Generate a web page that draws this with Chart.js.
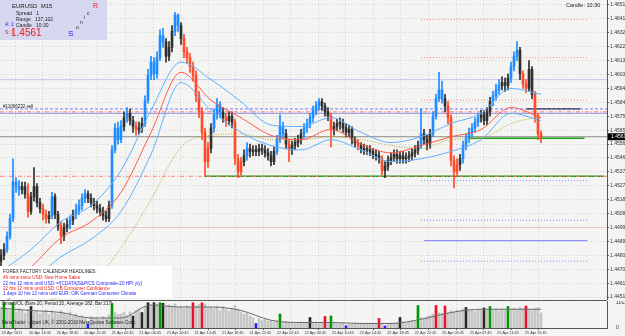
<!DOCTYPE html>
<html>
<head>
<meta charset="utf-8">
<script src="https://cdn.jsdelivr.net/npm/chart.js@4.4.1/dist/chart.umd.min.js"></script>
<style>
  html, body { margin: 0; padding: 0; background: #f4f4f2; }
  #wrap { position: relative; width: 625px; height: 336px; overflow: hidden; font-family: "Liberation Sans", Arial, sans-serif; }
  canvas { position: absolute; left: 0; }
  #price { top: 0; }
  #vol { top: 301px; }
  .sep { position: absolute; left: 0; top: 300px; width: 607px; height: 1px; background: #5a5a5a; }
  .t { position: absolute; white-space: nowrap; font-size: 5px; line-height: 6px; color: #222; }
  #info { position: absolute; left: 0; top: 0; width: 107px; height: 40px; background: rgba(212, 212, 240, 0.92); }
  #cal { position: absolute; left: 0; top: 266px; width: 172px; height: 32px; background: #fff; }
  #cal .t { font-size: 4.6px; }
  .red { color: #e8201c; }
  .blue { color: #2424f0; }
</style>
</head>
<body>
<div id="wrap">
  <canvas id="price" width="625" height="300"></canvas>
  <div class="sep"></div>
  <canvas id="vol" width="625" height="35"></canvas>

  <div id="info">
    <div class="t" style="left:12px;top:3px;font-size:6px">EURUSD&nbsp;&nbsp;M15</div>
    <div class="t" style="left:16px;top:10px">Spread&nbsp;&nbsp;&nbsp;1</div>
    <div class="t" style="left:16px;top:16px">Range&nbsp;&nbsp;&nbsp;137,102</div>
    <div class="t" style="left:16px;top:22px">Candle&nbsp;&nbsp;&nbsp;10:30</div>
    <div class="t blue" style="left:5px;top:21px">A: 1</div>
    <div class="t red" style="left:5px;top:29px">S: 1</div>
    <div class="t red" style="left:11px;top:27px;font-size:10px;line-height:11px">1.4561</div>
    <div class="t red" style="left:93px;top:2px;font-size:7px;line-height:8px">R</div>
    <div class="t" style="left:87px;top:10px">c</div>
    <div class="t" style="left:84px;top:14px">i</div>
    <div class="t" style="left:80px;top:19px">n</div>
    <div class="t" style="left:76px;top:24px">o</div>
    <div class="t blue" style="left:68px;top:29px;font-size:8px;line-height:9px">S</div>
  </div>

  <div class="t" style="left:566px;top:2px;font-size:5.5px">Candle: 10:30</div>
  <div class="t" style="left:3px;top:104px;font-size:4.5px">#11066232 sell</div>

  <div id="cal">
    <div class="t" style="left:3px;top:3px">FOREX FACTORY CALENDAR HEADLINES:</div>
    <div class="t red" style="left:3px;top:9px">46 mins since USD: New Home Sales</div>
    <div class="t blue" style="left:3px;top:15px">22 hrs 12 mins until USD: =![CDATA[S&amp;P/CS Composite-20 HPI y/y]</div>
    <div class="t red" style="left:3px;top:20px">22 hrs 12 mins until USD: CB Consumer Confidence</div>
    <div class="t blue" style="left:3px;top:25px">1 days 10 hrs 12 mins until EUR: GfK German Consumer Climate</div>
  </div>

  <div class="t" style="left:2px;top:301px;font-size:4.6px">SmartVOL (Bars 20, Period 20, Average 182, Bar 217)</div>
  <div class="t" style="left:2px;top:320px;font-size:4.6px">MetaTrader - Alpari UK, &copy; 2001-2010 MetaQuotes Software Corp.</div>
</div>

<script>
// EURUSD M15, one entry per bar, oldest first
const firstOpen = 1.4476
const closes = [
  1.4480, 1.4484, 1.4493, 1.4505, 1.4530, 1.4527, 1.4525, 1.4527, 1.4522, 1.4510,
  1.4520, 1.4527, 1.4516, 1.4512, 1.4508, 1.4505, 1.4507, 1.4520, 1.4508, 1.4500,
  1.4493, 1.4499, 1.4501, 1.4504, 1.4508, 1.4511, 1.4514, 1.4519, 1.4522, 1.4519,
  1.4516, 1.4514, 1.4512, 1.4510, 1.4507, 1.4505, 1.4514, 1.4552, 1.4567, 1.4559,
  1.4568, 1.4574, 1.4577, 1.4572, 1.4568, 1.4566, 1.4567, 1.4570, 1.4586, 1.4603,
  1.4612, 1.4604, 1.4615, 1.4630, 1.4626, 1.4616, 1.4622, 1.4633, 1.4644, 1.4637,
  1.4628, 1.4619, 1.4615, 1.4609, 1.4603, 1.4589, 1.4578, 1.4564, 1.4544, 1.4553,
  1.4567, 1.4576, 1.4583, 1.4578, 1.4574, 1.4572, 1.4575, 1.4571, 1.4546, 1.4537,
  1.4544, 1.4548, 1.4553, 1.4551, 1.4552, 1.4551, 1.4553, 1.4552, 1.4550, 1.4548,
  1.4544, 1.4551, 1.4559, 1.4568, 1.4563, 1.4556, 1.4552, 1.4555, 1.4557, 1.4559,
  1.4563, 1.4567, 1.4570, 1.4574, 1.4579, 1.4582, 1.4585, 1.4582, 1.4578, 1.4575,
  1.4566, 1.4568, 1.4570, 1.4570, 1.4567, 1.4564, 1.4566, 1.4559, 1.4557, 1.4555,
  1.4553, 1.4552, 1.4552, 1.4551, 1.4549, 1.4548, 1.4546, 1.4538, 1.4541, 1.4545,
  1.4547, 1.4549, 1.4546, 1.4548, 1.4546, 1.4547, 1.4548, 1.4550, 1.4552, 1.4555,
  1.4563, 1.4559, 1.4556, 1.4563, 1.4575, 1.4587, 1.4593, 1.4587, 1.4582, 1.4574,
  1.4545, 1.4537, 1.4542, 1.4546, 1.4555, 1.4560, 1.4564, 1.4567, 1.4571, 1.4574,
  1.4576, 1.4572, 1.4578, 1.4585, 1.4589, 1.4593, 1.4596, 1.4598, 1.4596, 1.4601,
  1.4609, 1.4616, 1.4620, 1.4604, 1.4597, 1.4594, 1.4607, 1.4590, 1.4575, 1.4563, 1.4561
]
const highs = [
  1.4484, 1.4488, 1.4496, 1.4508, 1.4546, 1.4533, 1.4531, 1.4530, 1.4530, 1.4529,
  1.4523, 1.4540, 1.4529, 1.4519, 1.4515, 1.4511, 1.4510, 1.4523, 1.4522, 1.4510,
  1.4503, 1.4502, 1.4505, 1.4507, 1.4511, 1.4515, 1.4518, 1.4522, 1.4525, 1.4524,
  1.4522, 1.4519, 1.4517, 1.4515, 1.4513, 1.4510, 1.4517, 1.4555, 1.4570, 1.4571,
  1.4572, 1.4578, 1.4581, 1.4580, 1.4575, 1.4571, 1.4571, 1.4574, 1.4589, 1.4607,
  1.4616, 1.4615, 1.4619, 1.4634, 1.4635, 1.4628, 1.4626, 1.4637, 1.4646, 1.4645,
  1.4639, 1.4631, 1.4622, 1.4618, 1.4612, 1.4606, 1.4592, 1.4581, 1.4567, 1.4557,
  1.4570, 1.4580, 1.4587, 1.4585, 1.4581, 1.4577, 1.4578, 1.4578, 1.4573, 1.4549,
  1.4547, 1.4552, 1.4557, 1.4556, 1.4555, 1.4555, 1.4556, 1.4556, 1.4555, 1.4553,
  1.4551, 1.4554, 1.4562, 1.4576, 1.4571, 1.4566, 1.4559, 1.4558, 1.4560, 1.4562,
  1.4566, 1.4570, 1.4573, 1.4577, 1.4582, 1.4585, 1.4587, 1.4587, 1.4584, 1.4581,
  1.4577, 1.4571, 1.4573, 1.4574, 1.4573, 1.4570, 1.4569, 1.4568, 1.4561, 1.4559,
  1.4557, 1.4556, 1.4555, 1.4555, 1.4553, 1.4552, 1.4551, 1.4548, 1.4544, 1.4548,
  1.4550, 1.4552, 1.4552, 1.4551, 1.4551, 1.4550, 1.4551, 1.4553, 1.4555, 1.4558,
  1.4580, 1.4566, 1.4562, 1.4566, 1.4578, 1.4590, 1.4605, 1.4599, 1.4590, 1.4585,
  1.4576, 1.4548, 1.4546, 1.4549, 1.4558, 1.4563, 1.4567, 1.4570, 1.4574, 1.4577,
  1.4579, 1.4579, 1.4581, 1.4588, 1.4592, 1.4597, 1.4600, 1.4602, 1.4601, 1.4604,
  1.4612, 1.4619, 1.4626, 1.4622, 1.4606, 1.4600, 1.4613, 1.4609, 1.4592, 1.4577, 1.4565
]
const lows = [
  1.4472, 1.4477, 1.4482, 1.4491, 1.4503, 1.4523, 1.4521, 1.4522, 1.4519, 1.4506,
  1.4508, 1.4517, 1.4513, 1.4509, 1.4504, 1.4502, 1.4502, 1.4505, 1.4505, 1.4497,
  1.4488, 1.4490, 1.4496, 1.4498, 1.4501, 1.4505, 1.4508, 1.4511, 1.4516, 1.4516,
  1.4513, 1.4511, 1.4509, 1.4507, 1.4504, 1.4503, 1.4503, 1.4512, 1.4550, 1.4556,
  1.4557, 1.4565, 1.4571, 1.4569, 1.4564, 1.4562, 1.4563, 1.4564, 1.4568, 1.4584,
  1.4600, 1.4600, 1.4601, 1.4613, 1.4622, 1.4612, 1.4613, 1.4619, 1.4630, 1.4633,
  1.4624, 1.4615, 1.4611, 1.4605, 1.4599, 1.4585, 1.4574, 1.4559, 1.4534, 1.4540,
  1.4550, 1.4564, 1.4573, 1.4574, 1.4571, 1.4568, 1.4569, 1.4567, 1.4542, 1.4533,
  1.4535, 1.4541, 1.4545, 1.4547, 1.4548, 1.4548, 1.4548, 1.4549, 1.4547, 1.4545,
  1.4541, 1.4542, 1.4549, 1.4557, 1.4560, 1.4553, 1.4544, 1.4549, 1.4552, 1.4554,
  1.4556, 1.4560, 1.4564, 1.4567, 1.4571, 1.4576, 1.4579, 1.4579, 1.4575, 1.4572,
  1.4554, 1.4562, 1.4565, 1.4566, 1.4564, 1.4561, 1.4561, 1.4556, 1.4554, 1.4552,
  1.4550, 1.4549, 1.4549, 1.4548, 1.4546, 1.4545, 1.4543, 1.4535, 1.4533, 1.4538,
  1.4542, 1.4544, 1.4543, 1.4543, 1.4543, 1.4543, 1.4544, 1.4545, 1.4547, 1.4549,
  1.4553, 1.4556, 1.4552, 1.4553, 1.4561, 1.4573, 1.4585, 1.4584, 1.4578, 1.4570,
  1.4541, 1.4526, 1.4534, 1.4538, 1.4543, 1.4552, 1.4557, 1.4561, 1.4564, 1.4568,
  1.4571, 1.4569, 1.4569, 1.4575, 1.4582, 1.4586, 1.4590, 1.4593, 1.4592, 1.4593,
  1.4598, 1.4606, 1.4613, 1.4600, 1.4594, 1.4591, 1.4592, 1.4587, 1.4571, 1.4559, 1.4557
]
const volumes = [
  820, 1010, 760, 690, 1000, 650, 780, 720, 600, 740,
  860, 640, 700, 580, 660, 720, 540, 690, 610, 560,
  700, 580, 520, 640, 480, 560, 420, 500, 380, 150,
  460, 380, 420, 340, 460, 380, 520, 980, 620, 540,
  560, 620, 500, 640, 480, 700, 760, 620, 820, 1010,
  900, 1010, 940, 1010, 990, 860, 920, 880, 970, 820,
  860, 780, 900, 820, 1010, 880, 940, 1010, 960, 800,
  820, 760, 880, 700, 860, 740, 680, 800, 900, 760,
  620, 560, 600, 480, 420, 180, 380, 300, 340, 260,
  300, 240, 280, 560, 220, 260, 200, 240, 180, 220,
  240, 180, 220, 420, 200, 240, 180, 220, 460, 200,
  480, 200, 160, 180, 220, 90, 180, 160, 200, 150,
  180, 160, 200, 140, 180, 160, 380, 200, 80, 160,
  200, 160, 220, 420, 240, 200, 260, 300, 280, 900,
  420, 380, 460, 500, 560, 900, 620, 580, 880, 600,
  700, 640, 720, 680, 760, 820, 700, 740, 660, 720,
  700, 800, 740, 860, 720, 780, 680, 760, 700, 860,
  720, 780, 700, 820, 760, 880, 740, 700, 780, 820, 600
]
// SmartVOL bar signals (bar indexes)
const climaxUpBars = [1, 4, 37, 53, 93, 110, 139, 163, 169]
const climaxDownBars = [64, 67, 108, 126, 145, 148, 175]
const churnBars = [10, 44, 47, 49, 51, 54, 103, 133, 155, 161]
const lowVolumeBars = [29, 85, 115, 128]

// indicators read every maStep bars
const maStep = 10
const emaRed = [1.4456, 1.4472, 1.4492, 1.4503, 1.4523, 1.4564, 1.4605, 1.4586, 1.4574, 1.4562,
  1.4559, 1.4566, 1.4556, 1.4550, 1.4555, 1.4561, 1.4566, 1.4581, 1.4574]
const bandUpper = [1.4469, 1.4484, 1.4503, 1.4514, 1.4538, 1.4579, 1.4612, 1.4600, 1.4585, 1.4569,
  1.4568, 1.4574, 1.4564, 1.4557, 1.4561, 1.4570, 1.4577, 1.4594, 1.4590]
const bandLower = [1.4446, 1.4462, 1.4479, 1.4491, 1.4510, 1.4549, 1.4598, 1.4579, 1.4564, 1.4555,
  1.4552, 1.4559, 1.4552, 1.4544, 1.4546, 1.4551, 1.4559, 1.4577, 1.4572]
const slowMa = [null, 1.4444, 1.4452, 1.4460, 1.4485, 1.4518, 1.4554, 1.4562, 1.4563, 1.4559,
  1.4559, 1.4561, 1.4559, 1.4555, 1.4553, 1.4559, 1.4560, 1.4570, 1.4575]
const volumeAvg = [790, 700, 620, 400, 400, 920, 840, 840, 700, 310,
  220, 220, 180, 180, 350, 620, 750, 750, 750]

// horizontal levels
const bidPrice = 1.4561
const lavenderLevel = 1.4600
const violetLevel = 1.4577
const orderPrice = 1.4578
const orderStop = 1.4580
const supportLevel = 1.4534
const pinkLevel = 1.4499
const greenShort = 1.4560
const blackShort = 1.4580
const pivotReds = [1.4641, 1.4615, 1.4586]
const pivotBlues = [1.4531, 1.4504, 1.4476]
const blueSolid = 1.4490

const priceTicks = [1.44515, 1.44610, 1.44705, 1.44800, 1.44895, 1.44990, 1.45085, 1.45180,
  1.45275, 1.45370, 1.45465, 1.45560, 1.45655, 1.45750, 1.45845, 1.45940, 1.46035, 1.46130,
  1.46225, 1.46320, 1.46415, 1.46510]
const volumeTicks = [0, 1013.46]
const timeLabels = ['20 Apr 2011', '20 Apr 14:45', '20 Apr 18:45', '20 Apr 22:45', '21 Apr 02:45',
  '21 Apr 06:45', '21 Apr 10:45', '21 Apr 14:45', '21 Apr 18:45', '21 Apr 22:45', '22 Apr 02:45',
  '22 Apr 06:45', '22 Apr 10:45', '22 Apr 14:45', '22 Apr 18:45', '22 Apr 22:45', '25 Apr 03:45',
  '25 Apr 07:45', '25 Apr 11:45', '25 Apr 15:45']

const font = "'Liberation Sans', Arial, sans-serif"
const gridColor = 'rgba(0,0,0,0.13)'
const xMin = -1 / 3
const xMax = 202
const barsPerLabel = 9.18

const opens = closes.map((c, i) => i ? closes[i - 1] : firstOpen)

// strong 3-bar moves are coloured, the rest stays dark
function candleColor(i) {
  const d = closes[i] - closes[Math.max(0, i - 3)]
  if (d > 0.0010) return '#1e8cff'
  if (d < -0.0010) return '#ff4a2a'
  return '#303030'
}

function volColor(i) {
  if (climaxUpBars.includes(i)) return '#009a00'
  if (climaxDownBars.includes(i)) return '#e8102a'
  if (churnBars.includes(i)) return '#262626'
  if (lowVolumeBars.includes(i)) return '#1c1cff'
  return '#c6c6c6'
}

const sparse = arr => arr.map((v, k) => ({ x: k * maStep, y: v })).filter(p => p.y !== null)

function maLine(arr, color, dash) {
  return {
    type: 'line', data: sparse(arr), borderColor: color, borderWidth: 1, borderDash: dash || [],
    pointRadius: 0, cubicInterpolationMode: 'monotone', order: 1
  }
}

function level(price, from, to, color, dash, width) {
  return {
    type: 'line', data: [{ x: from, y: price }, { x: to, y: price }],
    borderColor: color, borderWidth: width || 1, borderDash: dash || [], pointRadius: 0, order: 5
  }
}

const pivotFrom = 140, pivotTo = 195.5
const levels = [
  level(lavenderLevel, xMin, xMax, '#c6c6ee'),
  level(pinkLevel, xMin, xMax, '#f0c4c4'),
  level(orderStop, xMin, xMax, '#7a7aff', [3, 2]),
  level(orderPrice, xMin, xMax, '#ff7a7a', [4, 2, 1, 2]),
  level(violetLevel, xMin, xMax, '#8e8ee6'),
  level(bidPrice, xMin, xMax, '#8a8a8a'),
  level(supportLevel, xMin, xMax, '#ff7a7a', [4, 2, 1, 2]),
  level(supportLevel, 68, 201, '#10a010', null, 1.5),
  level(greenShort, 156, 194.5, '#10a010', null, 1.5),
  level(blackShort, 175, 193, '#111111', null, 1.2),
  level(blueSolid, 141, pivotTo, '#7a7aff'),
  ...pivotReds.map(p => level(p, pivotFrom, pivotTo, '#ff8a8a', [1, 2])),
  ...pivotBlues.map(p => level(p, pivotFrom, pivotTo, '#8a8aff', [1, 2]))
]

const bidLabel = {
  id: 'bidLabel',
  afterDraw(chart) {
    const y = chart.scales.y.getPixelForValue(bidPrice)
    const x = chart.chartArea.right + 1
    const ctx = chart.ctx
    ctx.save()
    ctx.fillStyle = '#000'
    ctx.fillRect(x, y - 3.5, 625 - x, 7)
    ctx.fillStyle = '#fff'
    ctx.font = '5px ' + font
    ctx.textBaseline = 'middle'
    ctx.fillText(bidPrice.toFixed(5), x + 3, y)
    ctx.restore()
  }
}

const timeTicks = s => { s.ticks = timeLabels.map((t, k) => ({ value: 0.2 + k * barsPerLabel })) }

new Chart(document.getElementById('price'), {
  type: 'bar',
  data: {
    datasets: [
      maLine(emaRed, '#ff5a45'),
      maLine(bandUpper, '#5fb0ff'),
      maLine(bandLower, '#5fb0ff'),
      maLine(slowMa, '#b4a42a', [1, 1.5]),
      {
        data: closes.map((c, i) => ({ x: i, y: [opens[i], c] })),
        backgroundColor: ctx => candleColor(ctx.dataIndex),
        barThickness: 2, minBarLength: 1, grouped: false, order: 3
      },
      {
        data: closes.map((c, i) => ({ x: i, y: [lows[i], highs[i]] })),
        backgroundColor: ctx => candleColor(ctx.dataIndex),
        barThickness: 1, grouped: false, order: 4
      },
      ...levels
    ]
  },
  options: {
    animation: false, responsive: false,
    layout: { padding: 0 },
    plugins: { legend: { display: false }, tooltip: { enabled: false } },
    scales: {
      x: {
        type: 'linear', min: xMin, max: xMax, offset: false,
        afterBuildTicks: timeTicks,
        ticks: { display: false },
        grid: { color: gridColor, drawTicks: false },
        border: { display: false, dash: [1, 2] },
        afterFit: s => { s.height = 0; s.paddingLeft = 0; s.paddingRight = 0 }
      },
      y: {
        position: 'right', min: 1.44495, max: 1.46544,
        afterBuildTicks: s => { s.ticks = priceTicks.map(v => ({ value: v })) },
        ticks: { font: { size: 5, family: font }, color: '#333', padding: 1, autoSkip: false, callback: v => v.toFixed(5) },
        grid: { color: gridColor, tickLength: 2, tickColor: '#666' },
        border: { display: true, color: '#555', dash: [1, 2] },
        afterFit: s => { s.width = 18; s.paddingTop = 0; s.paddingBottom = 0 }
      }
    }
  },
  plugins: [bidLabel]
})

new Chart(document.getElementById('vol'), {
  type: 'bar',
  data: {
    datasets: [
      {
        type: 'line', data: sparse(volumeAvg), borderColor: '#6a6a6a', borderWidth: 1,
        pointRadius: 0, cubicInterpolationMode: 'monotone', order: 1
      },
      {
        data: volumes.map((v, i) => ({ x: i, y: v })),
        backgroundColor: ctx => volColor(ctx.dataIndex),
        barThickness: 2, grouped: false, order: 2
      }
    ]
  },
  options: {
    animation: false, responsive: false,
    layout: { padding: 0 },
    plugins: { legend: { display: false }, tooltip: { enabled: false } },
    scales: {
      x: {
        type: 'linear', min: xMin, max: xMax, offset: false,
        afterBuildTicks: timeTicks,
        ticks: {
          font: { size: 3.8, family: font }, color: '#333', padding: 1, align: 'start',
          autoSkip: false, maxRotation: 0, minRotation: 0, callback: (v, k) => timeLabels[k]
        },
        grid: { color: gridColor, tickLength: 2, tickColor: '#555' },
        border: { display: true, color: '#555', dash: [1, 2] },
        afterFit: s => { s.height = 8; s.paddingLeft = 0; s.paddingRight = 0 }
      },
      y: {
        position: 'right', min: 0, max: 1080,
        afterBuildTicks: s => { s.ticks = volumeTicks.map(v => ({ value: v })) },
        ticks: { font: { size: 5, family: font }, color: '#333', padding: 1, autoSkip: false, callback: v => v ? v.toFixed(2) : '0' },
        grid: { display: false },
        border: { display: true, color: '#555' },
        afterFit: s => { s.width = 18; s.paddingTop = 0; s.paddingBottom = 0 }
      }
    }
  }
})
</script>
</body>
</html>
